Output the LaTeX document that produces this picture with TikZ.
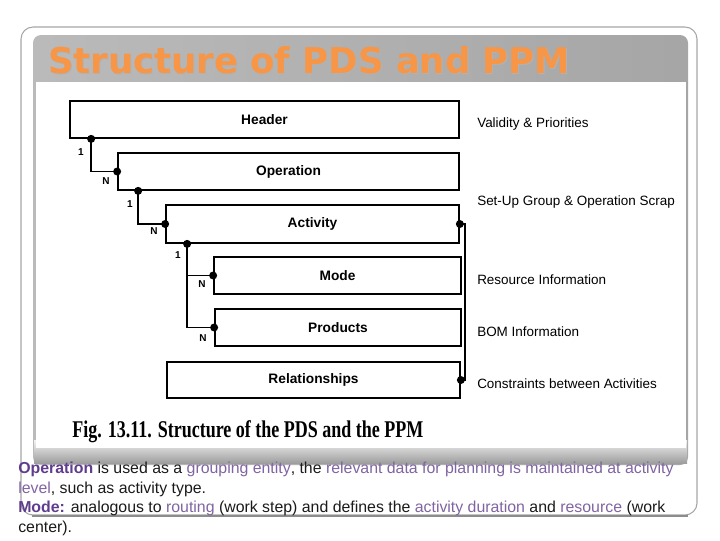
\documentclass[tikz,border=0pt]{standalone}
\usepackage{fontspec}
\usepackage{graphicx}
\setmainfont{Liberation Sans}
\newfontfamily\titlefont{DejaVu Sans}
\newfontfamily\capfont{Liberation Serif}
\usetikzlibrary{calc}
\definecolor{ttl}{HTML}{F79646}
\definecolor{lpurp}{HTML}{8064A2}
\definecolor{dpurp}{HTML}{5F3C8E}
\definecolor{txtc}{HTML}{1A1A1A}
\tikzset{
  ebox/.style={draw=black, line width=1.3pt, inner sep=0pt, minimum height=27.75pt,
    font=\bfseries\fontsize{10.3}{12}\selectfont},
  jdot/.style={circle, fill=black, inner sep=0pt, minimum size=6pt},
  conn/.style={line width=1.3pt},
  card/.style={font=\bfseries\fontsize{7.5}{9}\selectfont, inner sep=0pt},
  rlab/.style={anchor=west, inner sep=0pt, font=\fontsize{10.1}{12}\selectfont},
  txt/.style={anchor=base west, inner sep=0pt, text=txtc, font=\fontsize{11.9}{14}\selectfont},
}
\begin{document}
\begin{tikzpicture}[x=0.75pt,y=-0.75pt]
\useasboundingbox (0,0) rectangle (720,540);
% slide frame
\draw[black!35, line width=0.8pt, rounded corners=9pt] (21,27) rectangle (697,515);
\draw[black!45, line width=1.4pt] (32,516) -- (688,516);
% panel
\shade[rounded corners=6pt, left color=black!27, right color=black!35] (33,35) rectangle (688,465);
\shade[top color=black!5, bottom color=black!38] (34,440) rectangle (687,463);
\fill[white] (36,82) rectangle (686,448);
% title
\node[anchor=base west, inner sep=0pt, text=black!30, font=\titlefont\bfseries\fontsize{26.6}{28}\selectfont] (tshadow) at (49,74) {Structure of PDS and PPM};
\node[anchor=base west, inner sep=0pt, text=ttl, font=\titlefont\bfseries\fontsize{26.6}{28}\selectfont] (title) at (48,73) {Structure of PDS and PPM};
% boxes
\node[ebox, minimum width={389*0.75pt}] (hdr) at (264.5,119.5) {Header};
\node[ebox, minimum width={341*0.75pt}] (op) at (288.5,171.5) {Operation};
\node[ebox, minimum width={293*0.75pt}, minimum height=28.5pt] (act) at (312.5,224) {Activity};
\node[ebox, minimum width={247*0.75pt}] (mode) at (337.5,275.5) {Mode};
\node[ebox, minimum width={246*0.75pt}] (prod) at (338,327.5) {Products};
\node[ebox, minimum width={293*0.75pt}, minimum height=27pt] (rel) at (313.5,380) {Relationships};
% connection points
\coordinate (h1) at ($(hdr.south west)+(22,0)$);
\coordinate (o1) at ($(op.south west)+(21,0)$);
\coordinate (a1) at ($(act.south west)+(22,0)$);
\coordinate (rt) at (465,224);
% connectors
\draw[conn] (h1) |- (op.west);
\draw[conn] (o1) |- (act.west);
\draw[conn] (a1) |- (mode.west);
\draw[conn] (a1) |- (prod.west);
\draw[conn] (act.east) -- (rt) |- (rel.east);
% dots
\node[jdot] (d1) at (h1) {};
\node[jdot] (d2) at (op.west) {};
\node[jdot] (d3) at (o1) {};
\node[jdot] (d4) at (act.west) {};
\node[jdot] (d5) at (a1) {};
\node[jdot] (d6) at (mode.west) {};
\node[jdot] (d7) at (prod.west) {};
\node[jdot] (d8) at (act.east) {};
\node[jdot] (d9) at (rel.east) {};
% cardinalities
\node[card] (c1) at (81,152) {1};
\node[card] (c2) at (106,181) {N};
\node[card] (c3) at (130,204) {1};
\node[card] (c4) at (154,231) {N};
\node[card] (c5) at (178,255) {1};
\node[card] (c6) at (202,284) {N};
\node[card] (c7) at (203,338) {N};
% right labels
\node[rlab] (r1) at (477,124) {Validity \& Priorities};
\node[rlab] (r2) at (477,202) {Set-Up Group \& Operation Scrap};
\node[rlab] (r3) at (477,280) {Resource Information};
\node[rlab] (r4) at (477,332) {BOM Information};
\node[rlab] (r5) at (477,384) {Constraints between Activities};
% caption
\node[anchor=base west, inner sep=0pt, font=\capfont\bfseries\fontsize{18}{20}\selectfont] (cap) at (72,437) {\scalebox{0.75}[1]{Fig. 13.11. Structure of the PDS and the PPM}};
% body text
\node[txt] (t1) at (18,473) {{\bfseries\color{dpurp}Operation} is used as a {\color{lpurp}grouping entity}, the {\color{lpurp}relevant data for planning is maintained at activity}};
\node[txt] (t2) at (18,493) {{\color{lpurp}level}, such as activity type.};
\node[txt] (t3) at (18,512) {{\bfseries\color{dpurp}Mode:} analogous to {\color{lpurp}routing} (work step) and defines the {\color{lpurp}activity duration} and {\color{lpurp}resource} (work};
\node[txt] (t4) at (18,532) {center).};
\end{tikzpicture}
\end{document}
